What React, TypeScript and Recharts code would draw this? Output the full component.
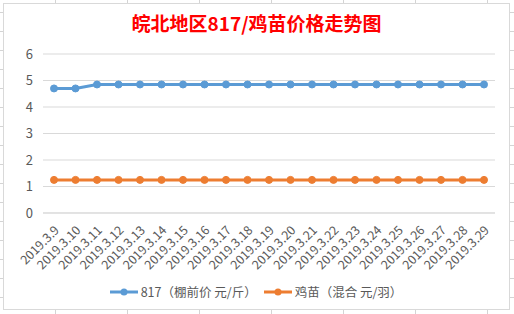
import React from "react";
import {
  LineChart,
  Line,
  CartesianGrid,
  XAxis,
  YAxis,
  Legend,
} from "recharts";

const dates = [
  "2019.3.9", "2019.3.10", "2019.3.11", "2019.3.12", "2019.3.13", "2019.3.14",
  "2019.3.15", "2019.3.16", "2019.3.17", "2019.3.18", "2019.3.19", "2019.3.20",
  "2019.3.21", "2019.3.22", "2019.3.23", "2019.3.24", "2019.3.25", "2019.3.26",
  "2019.3.27", "2019.3.28", "2019.3.29",
];
const price817 = [
  4.7, 4.7, 4.85, 4.85, 4.85, 4.85, 4.85, 4.85, 4.85, 4.85, 4.85, 4.85, 4.85,
  4.85, 4.85, 4.85, 4.85, 4.85, 4.85, 4.85, 4.85,
];
const chickPrice = [
  1.25, 1.25, 1.25, 1.25, 1.25, 1.25, 1.25, 1.25, 1.25, 1.25, 1.25, 1.25, 1.25,
  1.25, 1.25, 1.25, 1.25, 1.25, 1.25, 1.25, 1.25,
];
const yTicks = [0, 1, 2, 3, 4, 5, 6];

const data = dates.map((d, i) => ({
  date: d,
  p817: price817[i],
  chick: chickPrice[i],
}));

const FONT = '"Noto Sans CJK SC", "Noto Sans", sans-serif';
const TEXT = "#595959";
const BLUE = "#5b9bd5";
const ORANGE = "#ed7d31";

const DateTick = (props: any) => {
  const { x, payload } = props;
  const ax = x + 6;
  const ay = 227;
  return (
    <text
      x={ax}
      y={ay}
      transform={`rotate(-45, ${ax}, ${ay})`}
      textAnchor="end"
      fontSize={12.5}
      fill={TEXT}
      fontFamily={FONT}
    >
      {payload.value}
    </text>
  );
};

const legendItems = [
  { label: "817（棚前价 元/斤）", color: BLUE },
  { label: "鸡苗（混合 元/羽）", color: ORANGE },
];

const LegendBox = () => (
  <div
    style={{
      display: "flex",
      justifyContent: "center",
      alignItems: "center",
      fontFamily: FONT,
      fontSize: 12.5,
      color: TEXT,
      gap: 6,
      paddingLeft: 12,
      paddingTop: 9,
    }}
  >
    {legendItems.map((it) => (
      <div key={it.label} style={{ display: "flex", alignItems: "center" }}>
        <svg width={30} height={10} style={{ marginRight: 2 }}>
          <line x1={1} y1={5} x2={29} y2={5} stroke={it.color} strokeWidth={3} />
          <circle cx={15} cy={5} r={3.5} fill={it.color} />
        </svg>
        <span>{it.label}</span>
      </div>
    ))}
  </div>
);

const App = () => {
  return (
    <div
      style={{
        position: "absolute",
        left: 0,
        top: 0,
        width: 514,
        height: 314,
        background: "#fff",
        backgroundImage:
          "linear-gradient(to right, #d4d4d4 1px, transparent 1px), linear-gradient(to bottom, #d4d4d4 1px, transparent 1px)",
        backgroundSize: "72px 19px",
        backgroundPosition: "55px 12px",
        overflow: "hidden",
      }}
    >
      <div
        style={{
          position: "absolute",
          left: 3,
          top: 3,
          width: 505,
          height: 305,
          background: "#fff",
          border: "1px solid #d9d9d9",
        }}
      >
        <div
          style={{
            position: "absolute",
            left: 0,
            width: "100%",
            top: 6,
            textAlign: "center",
            fontFamily: FONT,
            fontWeight: "bold",
            fontSize: 19,
            color: "#ff0000",
            lineHeight: "26px",
          }}
        >
          皖北地区817/鸡苗价格走势图
        </div>
        <LineChart
          width={505}
          height={305}
          data={data}
          margin={{ top: 50, right: 14, left: 0, bottom: 1 }}
        >
          <CartesianGrid vertical={false} stroke="#d9d9d9" />
          <XAxis
            dataKey="date"
            interval={0}
            height={60}
            padding={{ left: 11, right: 11 }}
            tickLine={false}
            axisLine={{ stroke: "#d9d9d9" }}
            tick={<DateTick />}
          />
          <YAxis
            domain={[0, 6]}
            ticks={yTicks}
            width={39}
            tickLine={false}
            axisLine={false}
            tick={{ fill: TEXT, fontSize: 13, fontFamily: FONT }}
            tickMargin={4}
          />
          <Legend verticalAlign="bottom" height={35} content={<LegendBox />} />
          <Line
            dataKey="p817"
            stroke={BLUE}
            strokeWidth={3}
            dot={{ r: 3.5, fill: BLUE, stroke: BLUE, strokeWidth: 1 }}
            isAnimationActive={false}
          />
          <Line
            dataKey="chick"
            stroke={ORANGE}
            strokeWidth={3}
            dot={{ r: 3.5, fill: ORANGE, stroke: ORANGE, strokeWidth: 1 }}
            isAnimationActive={false}
          />
        </LineChart>
      </div>
    </div>
  );
};

export default App;
